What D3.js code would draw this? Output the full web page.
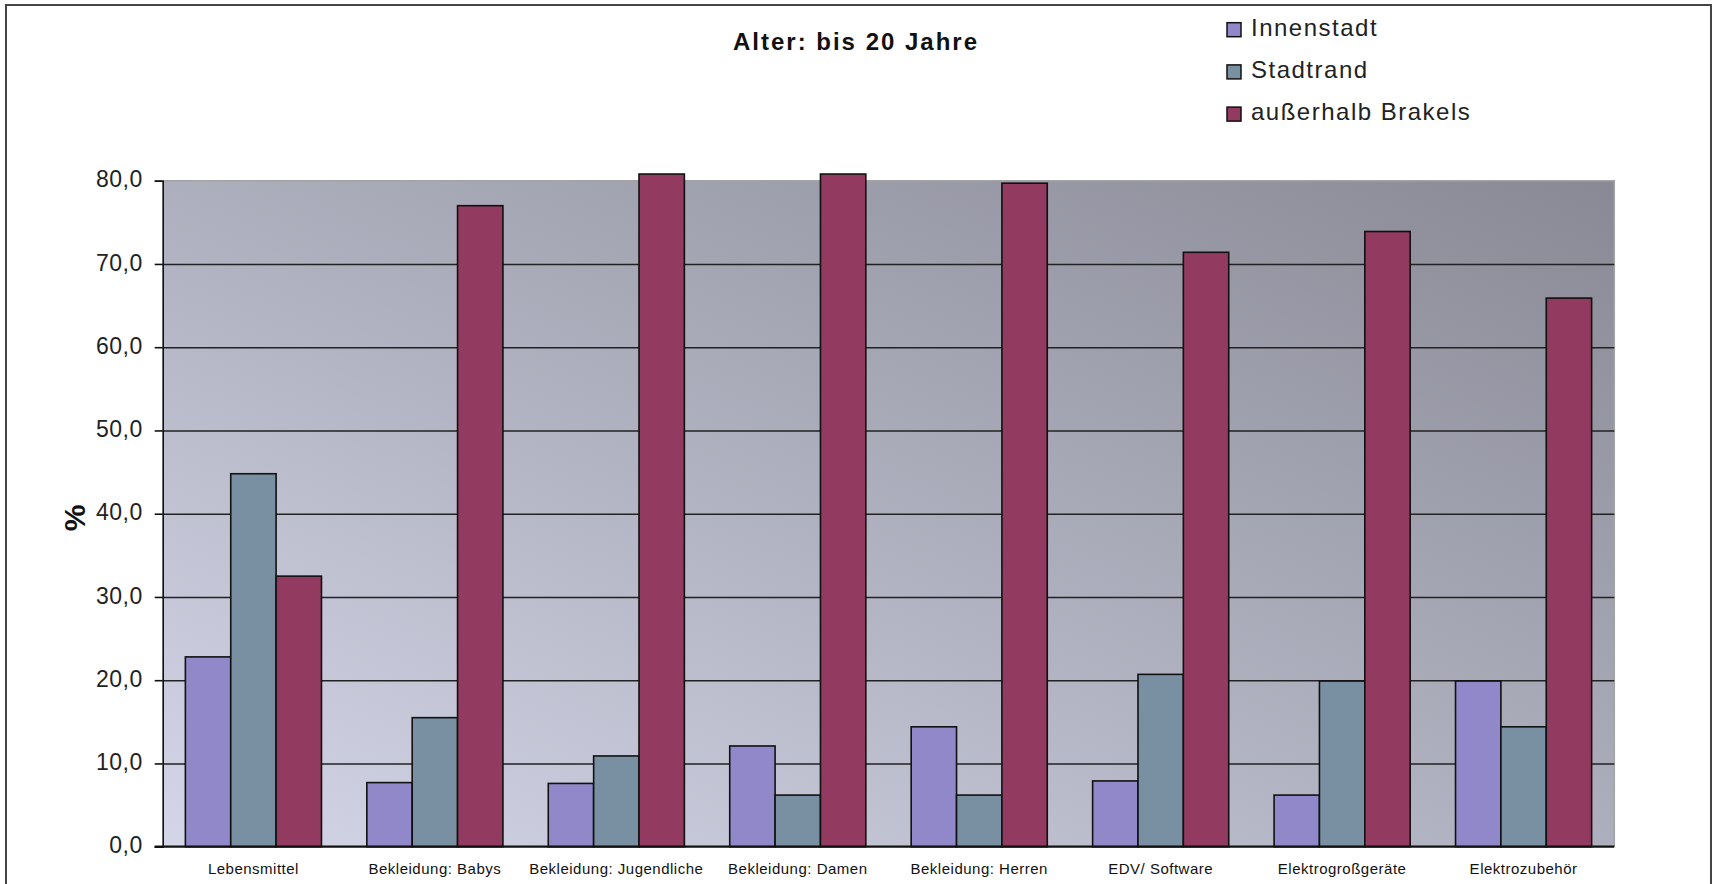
<!DOCTYPE html>
<html>
<head>
<meta charset="utf-8">
<script src="https://cdn.jsdelivr.net/npm/d3@7"></script>
<style>
  html, body { margin: 0; padding: 0; background: #ffffff; }
  svg { display: block; }
  text { font-family: "Liberation Sans", Arial, sans-serif; }
</style>
</head>
<body>
<svg id="chart" width="1713" height="884"></svg>
<script>
// ---- data ----
const categories = ["Lebensmittel", "Bekleidung: Babys", "Bekleidung: Jugendliche", "Bekleidung: Damen",
                    "Bekleidung: Herren", "EDV/ Software", "Elektrogroßgeräte", "Elektrozubehör"];
const seriesNames = ["Innenstadt", "Stadtrand", "außerhalb Brakels"];
const innenstadt = [22.8, 7.7, 7.6, 12.1, 14.4, 7.9, 6.2, 19.9];
const stadtrand  = [44.8, 15.5, 10.9, 6.2, 6.2, 20.7, 19.9, 14.4];
const ausserhalb = [32.5, 77.0, 80.8, 80.8, 79.7, 71.4, 73.9, 65.9];
const yTicks = [0, 10, 20, 30, 40, 50, 60, 70, 80];
const titleText = "Alter: bis 20 Jahre";
const yAxisTitle = "%";

const seriesValues = [innenstadt, stadtrand, ausserhalb];
const colors = ["#9088c9", "#7890a1", "#923a5f"];

// ---- layout ----
const svg = d3.select("#chart");
const plot = { left: 162.7, right: 1614.3, top: 180.7, bottom: 846.7 };

svg.append("rect").attr("x", 6).attr("y", 5).attr("width", 1705).attr("height", 920)
  .attr("fill", "#ffffff").attr("stroke", "#444", null).attr("stroke-width", 2);

const defs = svg.append("defs");
const grad = defs.append("linearGradient").attr("id", "bg")
  .attr("x1", 0).attr("y1", 1).attr("x2", 1).attr("y2", 0);
grad.append("stop").attr("offset", "0%").attr("stop-color", "#d4d5e7");
grad.append("stop").attr("offset", "100%").attr("stop-color", "#888994");

const x0 = d3.scaleBand().domain(categories).range([plot.left, plot.right]).paddingInner(0).paddingOuter(0);
const x1 = d3.scaleBand().domain(d3.range(seriesNames.length)).range([0, x0.bandwidth()])
  .paddingInner(0).paddingOuter(0.5);
const y = d3.scaleLinear().domain([0, 80]).range([plot.bottom, plot.top]);

// plot background
svg.append("rect").attr("x", plot.left).attr("y", plot.top)
  .attr("width", plot.right - plot.left).attr("height", plot.bottom - plot.top)
  .attr("fill", "url(#bg)");
// light top/right border
svg.append("path")
  .attr("d", `M${plot.left},${plot.top}H${plot.right}V${plot.bottom}`)
  .attr("fill", "none").attr("stroke", "#a3a3a3").attr("stroke-width", 1.5);

// gridlines
const grid = svg.append("g").attr("transform", `translate(${plot.left},0)`)
  .call(d3.axisLeft(y).tickValues(yTicks.filter(v => v > 0 && v < 80))
    .tickSize(-(plot.right - plot.left)).tickFormat(""));
grid.select(".domain").remove();
grid.selectAll("line").attr("stroke", "#222").attr("stroke-width", 1.6);

// bars
const groups = svg.append("g").selectAll("g").data(categories).join("g")
  .attr("transform", d => `translate(${x0(d)},0)`);
groups.selectAll("rect")
  .data((c, ci) => seriesValues.map((vals, si) => ({ si, v: vals[ci] })))
  .join("rect")
  .attr("x", d => x1(d.si))
  .attr("width", x1.bandwidth())
  .attr("y", d => y(d.v))
  .attr("height", d => y(0) - y(d.v))
  .attr("fill", d => colors[d.si])
  .attr("stroke", "#111")
  .attr("stroke-width", 1.6);

// y axis
const fmt = v => d3.format(".1f")(v).replace(".", ",");
const yAxis = svg.append("g").attr("transform", `translate(${plot.left},0)`)
  .call(d3.axisLeft(y).tickValues(yTicks).tickSize(8).tickPadding(12).tickFormat(fmt));
yAxis.select(".domain").attr("stroke", "#111").attr("stroke-width", 1.6);
yAxis.selectAll(".tick line").attr("stroke", "#111").attr("stroke-width", 1.6);
yAxis.selectAll(".tick text").attr("font-size", 23).attr("fill", "#222")
  .attr("letter-spacing", 0.5).attr("dy", "0.27em")
  .attr("font-family", "'Liberation Sans', Arial, sans-serif");

// x axis
const xAxis = svg.append("g").attr("transform", `translate(0,${plot.bottom})`)
  .call(d3.axisBottom(x0).tickSize(0).tickPadding(17));
xAxis.select(".domain").attr("d", `M${plot.left - 8},0H${plot.right}`)
  .attr("stroke", "#111").attr("stroke-width", 2.2);
xAxis.selectAll(".tick text").attr("font-size", 15).attr("fill", "#111")
  .attr("letter-spacing", 0.5)
  .attr("font-family", "'Liberation Sans', Arial, sans-serif");

// title
svg.append("text").attr("x", 856).attr("y", 50).attr("text-anchor", "middle")
  .attr("font-size", 24).attr("font-weight", "bold").attr("letter-spacing", 2)
  .attr("fill", "#111").text(titleText);

// y axis title
svg.append("text").attr("transform", "translate(85,518) rotate(-90)")
  .attr("text-anchor", "middle").attr("font-size", 30).attr("font-weight", "bold")
  .attr("fill", "#111").text(yAxisTitle);

// legend
const legend = svg.append("g").selectAll("g").data(seriesNames).join("g")
  .attr("transform", (d, i) => `translate(1227,${35.7 + i * 42.2})`);
legend.append("rect").attr("x", 0).attr("y", -13).attr("width", 14).attr("height", 14)
  .attr("fill", (d, i) => colors[i]).attr("stroke", "#111").attr("stroke-width", 1.5);
legend.append("text").attr("x", 24).attr("y", 0).attr("font-size", 24)
  .attr("letter-spacing", 1.5).attr("fill", "#222").text(d => d);
</script>
</body>
</html>
